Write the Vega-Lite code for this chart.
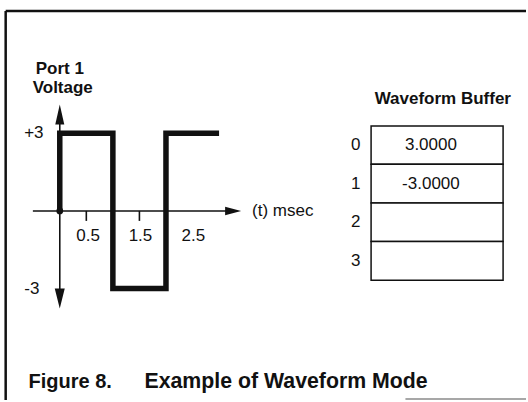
{
  "$schema": "https://vega.github.io/schema/vega-lite/v6.json",
  "width": 528,
  "height": 402,
  "autosize": {"type": "fit", "contains": "padding"},
  "padding": 0,
  "background": "white",
  "config": {"view": {"stroke": null}},
  "datasets": {
    "frame": [
      {"t": -1.0188, "v": 7.731, "t2": 8.7805, "v2": 7.731},
      {"t": -1.0188, "v": 7.731, "t2": -1.0188, "v2": -7.3077}
    ],
    "footer": [
      {"t": 6.51, "v": -7.265, "t2": 8.7805, "v2": -7.265}
    ],
    "axes": [
      {"t": -0.5066, "v": 0, "t2": 3.15, "v2": 0},
      {"t": 0, "v": 3.5, "t2": 0, "v2": -3.2},
      {"t": 0.5, "v": 0, "t2": 0.5, "v2": -0.385},
      {"t": 1.5, "v": 0, "t2": 1.5, "v2": -0.385}
    ],
    "arrowUp": [{"t": 0, "v": 3.731}],
    "arrowDown": [{"t": 0, "v": -3.385}],
    "arrowRight": [{"t": 3.227, "v": 0}],
    "wave": [
      {"i": 0, "t": 0, "v": 0},
      {"i": 1, "t": 0, "v": 3},
      {"i": 2, "t": 1, "v": 3},
      {"i": 3, "t": 1, "v": -3},
      {"i": 4, "t": 2, "v": -3},
      {"i": 5, "t": 2, "v": 3},
      {"i": 6, "t": 3, "v": 3}
    ],
    "origin": [{"t": 0, "v": 0}],
    "buffer": [
      {"slot": "0", "value": "3.0000", "top": 3.281, "bottom": 1.808, "mid": 2.545},
      {"slot": "1", "value": "-3.0000", "top": 1.808, "bottom": 0.308, "mid": 1.058},
      {"slot": "2", "value": "", "top": 0.308, "bottom": -1.181, "mid": -0.437},
      {"slot": "3", "value": "", "top": -1.181, "bottom": -2.681, "mid": -1.931}
    ],
    "titles": [
      {"t": 0, "v": 5.5, "label": "Port 1"},
      {"t": 0.056, "v": 4.769, "label": "Voltage"},
      {"t": 7.214, "v": 4.346, "label": "Waveform Buffer"}
    ],
    "ticklabels": [
      {"t": -0.488, "v": 3.0, "label": "+3"},
      {"t": -0.525, "v": -3.0, "label": "-3"},
      {"t": 0.535, "v": -0.962, "label": "0.5"},
      {"t": 1.52, "v": -0.962, "label": "1.5"},
      {"t": 2.514, "v": -0.962, "label": "2.5"}
    ],
    "axislabel": [{"t": 3.621, "v": 0, "label": "(t) msec"}],
    "captionA": [{"t": -0.589, "v": -6.615, "label": "Figure 8."}],
    "captionB": [{"t": 1.595, "v": -6.615, "label": "Example of Waveform Mode"}]
  },
  "layer": [
    {
      "data": {"name": "frame"},
      "mark": {"type": "rule", "color": "#111", "strokeWidth": 2.5},
      "encoding": {
        "x": {"field": "t", "type": "quantitative", "scale": {"domain": [-1.1257, 8.7805], "nice": false, "zero": false}, "axis": null},
        "x2": {"field": "t2"},
        "y": {"field": "v", "type": "quantitative", "scale": {"domain": [-7.3077, 8.1538], "nice": false, "zero": false}, "axis": null},
        "y2": {"field": "v2"}
      }
    },
    {
      "data": {"name": "footer"},
      "mark": {"type": "rule", "color": "#8a8a8a", "strokeWidth": 1.5},
      "encoding": {
        "x": {"field": "t", "type": "quantitative", "scale": {"domain": [-1.1257, 8.7805], "nice": false, "zero": false}, "axis": null},
        "x2": {"field": "t2"},
        "y": {"field": "v", "type": "quantitative", "scale": {"domain": [-7.3077, 8.1538], "nice": false, "zero": false}, "axis": null},
        "y2": {"field": "v2"}
      }
    },
    {
      "data": {"name": "axes"},
      "mark": {"type": "rule", "color": "#111", "strokeWidth": 1.6},
      "encoding": {
        "x": {"field": "t", "type": "quantitative", "scale": {"domain": [-1.1257, 8.7805], "nice": false, "zero": false}, "axis": null},
        "x2": {"field": "t2"},
        "y": {"field": "v", "type": "quantitative", "scale": {"domain": [-7.3077, 8.1538], "nice": false, "zero": false}, "axis": null},
        "y2": {"field": "v2"}
      }
    },
    {
      "data": {"name": "arrowUp"},
      "mark": {"type": "point", "shape": "M0,-1L0.45,1L-0.45,1Z", "size": 400, "filled": true, "color": "#111", "opacity": 1},
      "encoding": {
        "x": {"field": "t", "type": "quantitative", "scale": {"domain": [-1.1257, 8.7805], "nice": false, "zero": false}, "axis": null},
        "y": {"field": "v", "type": "quantitative", "scale": {"domain": [-7.3077, 8.1538], "nice": false, "zero": false}, "axis": null}
      }
    },
    {
      "data": {"name": "arrowDown"},
      "mark": {"type": "point", "shape": "M0,1L0.5,-1L-0.5,-1Z", "size": 400, "filled": true, "color": "#111", "opacity": 1},
      "encoding": {
        "x": {"field": "t", "type": "quantitative", "scale": {"domain": [-1.1257, 8.7805], "nice": false, "zero": false}, "axis": null},
        "y": {"field": "v", "type": "quantitative", "scale": {"domain": [-7.3077, 8.1538], "nice": false, "zero": false}, "axis": null}
      }
    },
    {
      "data": {"name": "arrowRight"},
      "mark": {"type": "point", "shape": "M1,0L-0.6,-0.42L-0.6,0.42Z", "size": 400, "filled": true, "color": "#111", "opacity": 1},
      "encoding": {
        "x": {"field": "t", "type": "quantitative", "scale": {"domain": [-1.1257, 8.7805], "nice": false, "zero": false}, "axis": null},
        "y": {"field": "v", "type": "quantitative", "scale": {"domain": [-7.3077, 8.1538], "nice": false, "zero": false}, "axis": null}
      }
    },
    {
      "data": {"name": "wave"},
      "mark": {"type": "line", "color": "#111", "strokeWidth": 5.5, "strokeJoin": "miter", "strokeCap": "butt"},
      "encoding": {
        "x": {"field": "t", "type": "quantitative", "scale": {"domain": [-1.1257, 8.7805], "nice": false, "zero": false}, "axis": null},
        "y": {"field": "v", "type": "quantitative", "scale": {"domain": [-7.3077, 8.1538], "nice": false, "zero": false}, "axis": null},
        "order": {"field": "i", "type": "quantitative"}
      }
    },
    {
      "data": {"name": "origin"},
      "mark": {"type": "point", "shape": "circle", "size": 45, "filled": true, "color": "#111", "opacity": 1},
      "encoding": {
        "x": {"field": "t", "type": "quantitative", "scale": {"domain": [-1.1257, 8.7805], "nice": false, "zero": false}, "axis": null},
        "y": {"field": "v", "type": "quantitative", "scale": {"domain": [-7.3077, 8.1538], "nice": false, "zero": false}, "axis": null}
      }
    },
    {
      "data": {"name": "buffer"},
      "mark": {"type": "rect", "fill": "white", "stroke": "#111", "strokeWidth": 1.5},
      "encoding": {
        "x": {"datum": 5.863, "type": "quantitative", "scale": {"domain": [-1.1257, 8.7805], "nice": false, "zero": false}, "axis": null},
        "x2": {"datum": 8.349},
        "y": {"field": "top", "type": "quantitative", "scale": {"domain": [-7.3077, 8.1538], "nice": false, "zero": false}, "axis": null},
        "y2": {"field": "bottom"}
      }
    },
    {
      "data": {"name": "buffer"},
      "mark": {"type": "text", "font": "Liberation Sans", "fontSize": 17, "align": "center", "baseline": "middle", "color": "#111"},
      "encoding": {
        "x": {"datum": 6.99, "type": "quantitative", "scale": {"domain": [-1.1257, 8.7805], "nice": false, "zero": false}, "axis": null},
        "y": {"field": "mid", "type": "quantitative", "scale": {"domain": [-7.3077, 8.1538], "nice": false, "zero": false}, "axis": null},
        "text": {"field": "value"}
      }
    },
    {
      "data": {"name": "buffer"},
      "mark": {"type": "text", "font": "Liberation Sans", "fontSize": 17, "align": "center", "baseline": "middle", "color": "#111"},
      "encoding": {
        "x": {"datum": 5.572, "type": "quantitative", "scale": {"domain": [-1.1257, 8.7805], "nice": false, "zero": false}, "axis": null},
        "y": {"field": "mid", "type": "quantitative", "scale": {"domain": [-7.3077, 8.1538], "nice": false, "zero": false}, "axis": null},
        "text": {"field": "slot"}
      }
    },
    {
      "data": {"name": "titles"},
      "mark": {"type": "text", "font": "Liberation Sans", "fontSize": 17, "fontWeight": "bold", "align": "center", "baseline": "middle", "color": "#111"},
      "encoding": {
        "x": {"field": "t", "type": "quantitative", "scale": {"domain": [-1.1257, 8.7805], "nice": false, "zero": false}, "axis": null},
        "y": {"field": "v", "type": "quantitative", "scale": {"domain": [-7.3077, 8.1538], "nice": false, "zero": false}, "axis": null},
        "text": {"field": "label"}
      }
    },
    {
      "data": {"name": "ticklabels"},
      "mark": {"type": "text", "font": "Liberation Sans", "fontSize": 17, "align": "center", "baseline": "middle", "color": "#111"},
      "encoding": {
        "x": {"field": "t", "type": "quantitative", "scale": {"domain": [-1.1257, 8.7805], "nice": false, "zero": false}, "axis": null},
        "y": {"field": "v", "type": "quantitative", "scale": {"domain": [-7.3077, 8.1538], "nice": false, "zero": false}, "axis": null},
        "text": {"field": "label"}
      }
    },
    {
      "data": {"name": "axislabel"},
      "mark": {"type": "text", "font": "Liberation Sans", "fontSize": 17, "align": "left", "baseline": "middle", "color": "#111"},
      "encoding": {
        "x": {"field": "t", "type": "quantitative", "scale": {"domain": [-1.1257, 8.7805], "nice": false, "zero": false}, "axis": null},
        "y": {"field": "v", "type": "quantitative", "scale": {"domain": [-7.3077, 8.1538], "nice": false, "zero": false}, "axis": null},
        "text": {"field": "label"}
      }
    },
    {
      "data": {"name": "captionA"},
      "mark": {"type": "text", "font": "Liberation Sans", "fontSize": 20, "fontWeight": "bold", "align": "left", "baseline": "middle", "color": "#111"},
      "encoding": {
        "x": {"field": "t", "type": "quantitative", "scale": {"domain": [-1.1257, 8.7805], "nice": false, "zero": false}, "axis": null},
        "y": {"field": "v", "type": "quantitative", "scale": {"domain": [-7.3077, 8.1538], "nice": false, "zero": false}, "axis": null},
        "text": {"field": "label"}
      }
    },
    {
      "data": {"name": "captionB"},
      "mark": {"type": "text", "font": "Liberation Sans", "fontSize": 21.3, "fontWeight": "bold", "align": "left", "baseline": "middle", "color": "#111"},
      "encoding": {
        "x": {"field": "t", "type": "quantitative", "scale": {"domain": [-1.1257, 8.7805], "nice": false, "zero": false}, "axis": null},
        "y": {"field": "v", "type": "quantitative", "scale": {"domain": [-7.3077, 8.1538], "nice": false, "zero": false}, "axis": null},
        "text": {"field": "label"}
      }
    }
  ]
}
